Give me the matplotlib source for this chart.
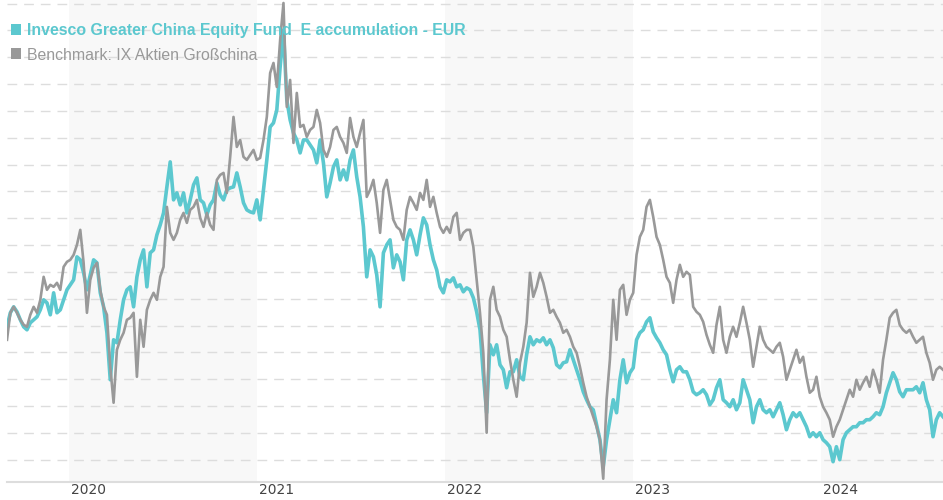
import matplotlib
matplotlib.use("Agg")
import matplotlib.pyplot as plt
import matplotlib.transforms as mtransforms
from matplotlib.patches import Rectangle
import pandas as pd
import numpy as np

# Chart values (index height above the bottom axis)
fund = [155, 169, 175, 170, 162, 155, 152, 159, 162, 165, 172, 182, 179, 167, 189, 169, 172, 182, 192, 197,
        202, 225, 222, 209, 192, 207, 222, 219, 189, 175, 149, 102, 142, 139, 162, 182, 192, 195, 175, 205,
        222, 232, 195, 229, 232, 247, 257, 269, 295, 320, 282, 289, 277, 289, 269, 282, 297, 304, 282, 279,
        267, 277, 282, 299, 287, 282, 292, 294, 295, 309, 295, 279, 272, 270, 269, 282, 262, 292, 322, 355,
        359, 372, 415, 452, 382, 362, 349, 342, 329, 342, 342, 337, 332, 319, 342, 319, 285, 299, 315, 322,
        302, 312, 302, 322, 332, 305, 285, 255, 205, 232, 225, 207, 175, 229, 237, 242, 214, 227, 220, 202,
        242, 252, 242, 227, 247, 264, 257, 237, 222, 212, 195, 189, 202, 200, 204, 195, 197, 190, 194, 192,
        184, 170, 152, 107, 69, 137, 127, 137, 117, 112, 94, 110, 110, 122, 105, 102, 127, 145, 137, 142,
        140, 144, 137, 142, 134, 117, 114, 119, 120, 132, 122, 112, 102, 90, 82, 75, 72, 57, 42, 15,
        42, 62, 82, 69, 102, 122, 99, 109, 114, 142, 149, 152, 160, 164, 150, 144, 139, 132, 127, 112,
        100, 112, 115, 110, 110, 102, 90, 87, 89, 92, 87, 77, 82, 94, 102, 82, 79, 75, 82, 72,
        79, 102, 92, 82, 59, 75, 82, 72, 69, 72, 65, 72, 79, 67, 52, 62, 69, 65, 69, 62,
        55, 45, 49, 45, 49, 42, 39, 35, 20, 35, 22, 42, 49, 52, 55, 55, 59, 59, 62, 62,
        65, 69, 67, 75, 89, 99, 109, 102, 90, 85, 92, 92, 92, 95, 89, 99, 82, 72, 45, 62,
        69, 65]

benchmark = [142, 169, 175, 169, 162, 157, 155, 167, 175, 169, 182, 205, 192, 197, 195, 199, 192, 215, 220, 222,
             227, 237, 252, 219, 169, 202, 214, 219, 192, 175, 167, 115, 79, 132, 142, 149, 162, 164, 169, 105,
             162, 135, 172, 182, 189, 182, 205, 215, 275, 249, 242, 249, 262, 269, 259, 272, 275, 282, 264, 255,
             269, 257, 252, 302, 307, 309, 289, 325, 365, 335, 342, 325, 322, 327, 332, 322, 324, 342, 365, 409,
             419, 395, 442, 479, 375, 402, 339, 389, 355, 357, 345, 352, 355, 372, 359, 332, 325, 335, 352, 355,
             345, 339, 329, 364, 345, 335, 349, 362, 285, 292, 302, 279, 249, 292, 302, 282, 262, 255, 252, 242,
             272, 285, 279, 272, 289, 282, 302, 275, 285, 269, 255, 249, 255, 249, 265, 269, 242, 249, 252, 252,
             235, 202, 169, 129, 49, 182, 195, 172, 165, 152, 145, 122, 102, 85, 119, 135, 159, 209, 185, 195,
             209, 199, 185, 169, 172, 165, 159, 149, 152, 145, 135, 129, 115, 99, 85, 75, 65, 55, 42, 3,
             82, 122, 182, 142, 192, 197, 167, 182, 189, 227, 245, 252, 275, 282, 265, 245, 237, 222, 205, 199,
             179, 202, 217, 205, 210, 207, 175, 170, 167, 160, 147, 137, 129, 157, 175, 142, 129, 145, 155, 145,
             159, 175, 159, 142, 115, 135, 155, 142, 135, 132, 129, 135, 139, 125, 102, 112, 122, 132, 119, 125,
             105, 89, 92, 105, 85, 75, 69, 62, 45, 55, 62, 72, 82, 92, 85, 102, 92, 99, 105, 95,
             112, 102, 89, 122, 142, 164, 169, 172, 157, 152, 149, 152, 145, 139, 142, 145, 129, 119, 102, 112,
             115, 112]

years = ["2020", "2021", "2022", "2023", "2024"]
start_date = "2019-09-02"
end_date = "2024-08-26"

fund_dates = pd.date_range(start_date, end_date, periods=len(fund))
bench_dates = pd.date_range(start_date, end_date, periods=len(benchmark))

teal = "#5cc8cf"
grey = "#999999"

fig = plt.figure(figsize=(9.43, 5.0), dpi=100)
ax = fig.add_axes([7 / 943, 18.3 / 500, 936 / 943, 481.7 / 500])

# alternating year bands
year_starts = [pd.Timestamp(y + "-01-01") for y in years]
for i, ys in enumerate(year_starts):
    if i % 2 == 0:
        ye = year_starts[i + 1] if i + 1 < len(year_starts) else pd.Timestamp(end_date) + pd.Timedelta(days=10)
        ax.axvspan(ys, ye, color="#f8f8f8", lw=0, zorder=0)

# dashed horizontal gridlines
ax.set_yticks(22 + 26.85 * np.arange(18))
ax.yaxis.grid(True, color="#dddddd", linestyle=(0, (7, 5)), linewidth=1.0, zorder=1)
ax.tick_params(axis="y", left=False, labelleft=False)

ax.plot(fund_dates, fund, color=teal, linewidth=2.6, zorder=3)
ax.plot(bench_dates, benchmark, color=grey, linewidth=1.9, zorder=4)

ax.set_xlim(fund_dates[0], fund_dates[-1])
ax.set_ylim(0, 482)

ax.set_xticks(year_starts)
ax.set_xticklabels(years, ha="left", fontsize=10, color="#444444", family="DejaVu Sans")
ax.tick_params(axis="x", length=0, pad=1)
shift = mtransforms.ScaledTranslation(2 / 100, 0, fig.dpi_scale_trans)
for lbl in ax.get_xticklabels():
    lbl.set_transform(lbl.get_transform() + shift)

for side in ["top", "left", "right"]:
    ax.spines[side].set_visible(False)
ax.spines["bottom"].set_color("#dddddd")
ax.spines["bottom"].set_linewidth(1.5)

# legend at the top left, drawn under the series
legend_rows = [("Invesco Greater China Equity Fund  E accumulation - EUR", teal, "bold", 29.5),
               ("Benchmark: IX Aktien Großchina", grey, "normal", 53.5)]
for label, col, weight, yc in legend_rows:
    ax.add_patch(Rectangle((11 / 943, 1 - (yc + 5) / 500), 10 / 943, 10 / 500,
                           transform=fig.transFigure, facecolor=col, edgecolor="none", zorder=2))
    fig.text(27 / 943, 1 - (yc + 1.5) / 500, label, color=col, fontsize=11.4, fontweight=weight,
             va="center", ha="left", zorder=2, family="Liberation Sans")

fig.savefig("out.png", dpi=100)
